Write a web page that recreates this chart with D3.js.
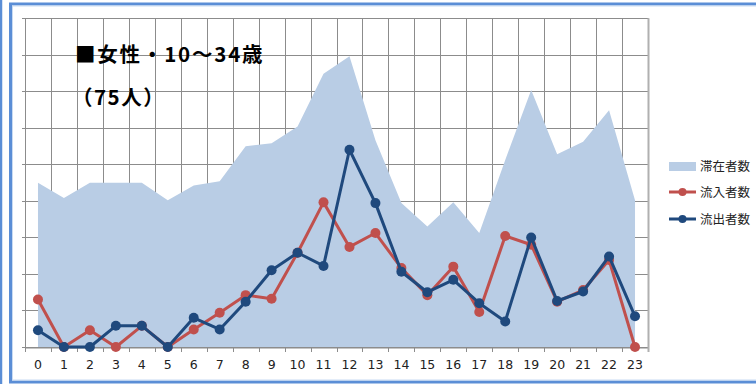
<!DOCTYPE html>
<html><head><meta charset="utf-8">
<script src="https://cdn.jsdelivr.net/npm/d3@7"></script>
<style>body{margin:0;background:#fff}svg{display:block}</style>
</head><body>
<svg id="c" width="756" height="384"></svg>
<script>
const hours = d3.range(0, 24).map(String);
const stay = [22.5,20.4,22.5,22.5,22.5,20.1,22.1,22.7,27.5,27.9,30.2,37.4,39.8,28.3,19.7,16.5,19.8,15.6,25.6,35.2,26.4,28.1,32.4,20.1];
const inflow = [6.5,0,2.3,0,2.9,0,2.4,4.7,7.1,6.6,12.9,19.8,13.7,15.6,10.8,7.1,11.0,4.8,15.2,14.0,6.2,7.8,11.9,0];
const outflow = [2.3,0,0,2.9,2.9,0,4.0,2.4,6.2,10.5,12.9,11.1,27.0,19.7,10.3,7.5,9.2,6.0,3.5,15.0,6.3,7.6,12.4,4.2];
const yTicks = d3.range(0, 46, 5);
const seriesNames = ["滞在者数","流入者数","流出者数"];
const titleLines = ["■女性・10～34歳","（75人）"];

const svg = d3.select("#c");
const L = 25, R = 648, T = 18.3, B = 347;
const x = d3.scaleBand().domain(hours).range([L, R]).padding(0);
const bw = x.bandwidth();
const cx = d => x(d) + bw / 2;
const y = d3.scaleLinear().domain([0, 45]).range([B, T]);

// frame
svg.append("line").attr("x1",1).attr("x2",1).attr("y1",0).attr("y2",384).attr("stroke","#5b8ed6").attr("stroke-width",2.5);
svg.append("rect").attr("x",10.5).attr("y",4).attr("width",760).attr("height",378).attr("fill","none").attr("stroke","#5b8ed6").attr("stroke-width",3);
svg.append("rect").attr("x",12.5).attr("y",6).attr("width",760).attr("height",374).attr("fill","none").attr("stroke","#c9dbf2").attr("stroke-width",1);

// grid
const g = svg.append("g");
g.selectAll("line.h").data(yTicks).join("line").attr("class","h")
  .attr("x1", L).attr("x2", R).attr("y1", d => Math.round(y(d))+0.5).attr("y2", d => Math.round(y(d))+0.5)
  .attr("stroke","#8c8c8c").attr("stroke-width",1);
const bounds = hours.map(h => x(h)).concat([R]);
g.selectAll("line.v").data(bounds).join("line").attr("class","v")
  .attr("x1", d => Math.round(d)+0.5).attr("x2", d => Math.round(d)+0.5).attr("y1", T).attr("y2", B)
  .attr("stroke","#8c8c8c").attr("stroke-width",1);

// area
const area = d3.area().x((d,i) => cx(hours[i])).y0(y(0)).y1(d => y(d));
svg.append("path").datum(stay).attr("d", area).attr("fill","#b9cde5");

// axes
const xAxis = d3.axisBottom(x).tickSize(0).tickPadding(13);
const xg = svg.append("g").attr("transform",`translate(0,${Math.round(B)+0.5})`).call(xAxis);
xg.select(".domain").attr("stroke","#8c8c8c");
xg.selectAll("text").attr("font-family","DejaVu Sans").attr("font-size","12.5px").attr("fill","#222");
svg.selectAll("line.xt").data(bounds).join("line").attr("class","xt")
  .attr("x1", d => Math.round(d)+0.5).attr("x2", d => Math.round(d)+0.5).attr("y1", B).attr("y2", B+5)
  .attr("stroke","#8c8c8c");
svg.selectAll("line.yt").data(yTicks).join("line").attr("class","yt")
  .attr("x1", L-3).attr("x2", L).attr("y1", d => Math.round(y(d))+0.5).attr("y2", d => Math.round(y(d))+0.5)
  .attr("stroke","#8c8c8c");
svg.append("line").attr("x1",L+0.5).attr("x2",L+0.5).attr("y1",T).attr("y2",B).attr("stroke","#8c8c8c");
svg.append("line").attr("x1",R+0.5).attr("x2",R+0.5).attr("y1",T).attr("y2",B+5).attr("stroke","#b0b0b0").attr("stroke-width",2);

// lines
function drawLine(data, color) {
  const line = d3.line().x((d,i) => cx(hours[i])).y(d => y(d));
  svg.append("path").datum(data).attr("d", line).attr("fill","none").attr("stroke",color).attr("stroke-width",3).attr("stroke-linejoin","round");
  svg.append("g").selectAll("circle").data(data).join("circle")
    .attr("cx",(d,i) => cx(hours[i])).attr("cy", d => y(d)).attr("r",5).attr("fill",color);
}
drawLine(inflow, "#c0504d");
drawLine(outflow, "#1f497d");

// title
svg.append("text").attr("x",75).attr("y",62).text(titleLines[0])
  .attr("font-family","'Noto Sans CJK JP'").attr("font-weight","bold").attr("font-size","20.5px")
  .attr("letter-spacing","1.8px").attr("fill","#000");
svg.append("text").attr("x",72).attr("y",105).text(titleLines[1])
  .attr("font-family","'Noto Sans CJK JP'").attr("font-weight","bold").attr("font-size","20.5px")
  .attr("letter-spacing","1.5px").attr("fill","#000");

// legend
const lg = svg.append("g").attr("font-family","'Noto Sans CJK JP'").attr("font-size","12.5px").attr("fill","#222");
lg.append("rect").attr("x",669).attr("y",162).attr("width",27).attr("height",9).attr("fill","#b9cde5");
lg.append("text").attr("x",700).attr("y",170.5).text(seriesNames[0]);
[[seriesNames[1],"#c0504d",192],[seriesNames[2],"#1f497d",219]].forEach(([n,c,yy]) => {
  lg.append("line").attr("x1",669).attr("x2",696).attr("y1",yy).attr("y2",yy).attr("stroke",c).attr("stroke-width",3);
  lg.append("circle").attr("cx",682.5).attr("cy",yy).attr("r",4).attr("fill",c);
  lg.append("text").attr("x",700).attr("y",yy+4.5).text(n);
});
</script>
</body></html>
